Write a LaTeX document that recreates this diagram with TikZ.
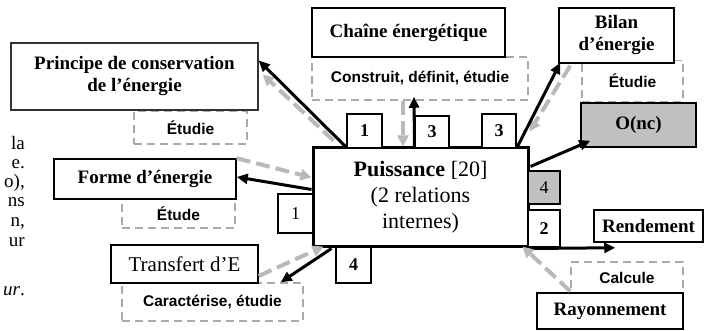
\documentclass[tikz,border=0pt]{standalone}
\usepackage{fontspec}
\setmainfont{Liberation Serif}
\newfontfamily\labsans{Liberation Sans}
\usetikzlibrary{arrows.meta,calc}
\definecolor{boxgray}{RGB}{192,192,192}
\definecolor{dashgray}{RGB}{170,170,170}
\definecolor{arrgray}{RGB}{185,185,185}
\begin{document}
\begin{tikzpicture}[x=1pt,y=-1pt,
  box/.style={draw=black, line width=1.5pt, fill=white, inner sep=0pt, align=center,
    font=\fontsize{19}{22}\selectfont\bfseries},
  dbox/.style={draw=dashgray, line width=1.5pt, dash pattern=on 8pt off 5pt, inner sep=0pt,
    align=center, font=\labsans\fontsize{15.5}{18}\selectfont\bfseries},
  num/.style={draw=black, line width=2pt, fill=white, inner sep=0pt,
    font=\fontsize{18}{20}\selectfont\bfseries},
  frag/.style={anchor=base east, inner sep=0pt, font=\fontsize{19}{20}\selectfont},
  blk/.style={line width=3pt, -{Triangle[length=11pt,width=10pt]}},
  gry/.style={draw=arrgray, line width=4pt, dash pattern=on 14pt off 6pt,
    -{Triangle[length=11pt,width=11pt]}}]
\useasboundingbox (0,0) rectangle (718,331);

% left text fragments
\node[frag] (f1) at (25,150) {la};
\node[frag] (f2) at (25,169) {e.};
\node[frag] (f3) at (25,188) {o),};
\node[frag] (f4) at (25,207) {ns};
\node[frag] (f5) at (25,227) {n,};
\node[frag] (f6) at (25,247) {ur};
\node[frag] (f7) at (25,295) {\textit{ur}.};

% dashed boxes
\node[dbox, minimum width=113pt, minimum height=33pt] (et1) at (190.5,127.5) {Étudie};
\node[dbox, minimum width=216pt, minimum height=43pt] (con) at (420,78.5) {Construit, définit, étudie};
\node[dbox, minimum width=101pt, minimum height=41pt] (et2) at (632.5,81) {Étudie};
\node[dbox, minimum width=113pt, minimum height=29pt] (et3) at (178.5,213.5) {Étude};
\node[dbox, minimum width=181pt, minimum height=38pt] (car) at (212.5,302) {Caractérise, étudie};
\node[dbox, minimum width=112pt, minimum height=31pt] (cal) at (627,277.5) {Calcule};

% solid boxes
\node[box, draw=black!80, minimum width=247pt, minimum height=67pt] (cons) at (134.5,76.5)
  {Principe de conservation\\de l'énergie};
\node[box, minimum width=193pt, minimum height=49pt] (cha) at (408.5,32.5) {Chaîne énergétique};
\node[box, minimum width=115pt, minimum height=55pt] (bil) at (616.5,35.5) {Bilan\\d’énergie};
\node[box, fill=boxgray, minimum width=115pt, minimum height=44pt] (onc) at (638.5,125) {O(nc)};
\node[box, minimum width=182pt, minimum height=40pt] (forme) at (145,179) {Forme d’énergie};
\node[box, font=\fontsize{21}{23}\selectfont, minimum width=147pt, minimum height=38pt] (trans) at (184.5,264) {Transfert d’E};
\node[box, minimum width=109pt, minimum height=32pt] (ren) at (648.5,226) {Rendement};
\node[box, minimum width=146pt, minimum height=36pt] (ray) at (610,311) {Rayonnement};

% central box
\node[draw=black, line width=3pt, fill=white, inner sep=0pt, align=center,
  minimum width=215pt, minimum height=99pt, font=\fontsize{22}{26}\selectfont] (cen) at (420.5,197.5)
  {\textbf{Puissance} [20]\\(2 relations\\internes)};

% number boxes
\node[num, minimum width=35pt, minimum height=34pt] (n1t) at (364.5,131) {1};
\node[num, minimum width=34pt, minimum height=32pt] (n3a) at (432,132) {3};
\node[num, minimum width=34pt, minimum height=34pt] (n3b) at (499,131) {3};
\node[num, fill=boxgray, line width=1.5pt, font=\fontsize{18}{20}\selectfont, minimum width=32pt, minimum height=33pt] (n4g) at (544,187.5) {4};
\node[num, minimum width=32pt, minimum height=37pt] (n2) at (544,228.5) {2};
\node[num, minimum width=35pt, minimum height=36pt] (n4b) at (353.5,265) {4};
\node[num, font=\fontsize{18}{20}\selectfont, minimum width=35pt, minimum height=39pt] (n1l) at (295.5,213.5) {1};

% connectors
\draw[gry] ($(cen.north west)+(22,-6)$) -- ($(cons.east)+(4,-2)$);
\draw[blk] ($(cen.north west)+(34,0)$) -- ($(cons.east)+(0,-16)$);
\draw[blk] ($(cen.west)+(0,-8)$) -- ($(forme.east)+(0,-2)$);
\draw[gry] (forme.north east) -- ($(cen.west)+(0,-20)$);
\draw[gry] ($(trans.east)+(0,12)$) -- ($(cen.south west)+(12,-2)$);
\draw[blk] ($(cen.south west)+(20,0)$) -- ($(car.north east)+(-23,0)$);
\draw[gry] ($(con.south)+(-17,0)$) -- ($(cen.north)+(-17.5,0)$);
\draw[blk] ($(cen.north)+(-6,0)$) -- ($(con.south)+(-6,-4)$);
\draw[gry] ($(bil.south west)+(12,2)$) -- ($(cen.north east)+(0,-15)$);
\draw[blk] ($(cen.north east)+(-12,0)$) -- ($(bil.south west)+(2,-1)$);
\draw[blk] ($(cen.north east)+(1,20)$) -- ($(onc.south west)+(10,-7)$);
\draw[blk] (cen.south east) -- ($(ren.south west)+(22,5)$);
\draw[gry] ($(ray.north west)+(34,-1)$) -- ($(cen.south east)+(-7,-2)$);
\end{tikzpicture}
\end{document}
